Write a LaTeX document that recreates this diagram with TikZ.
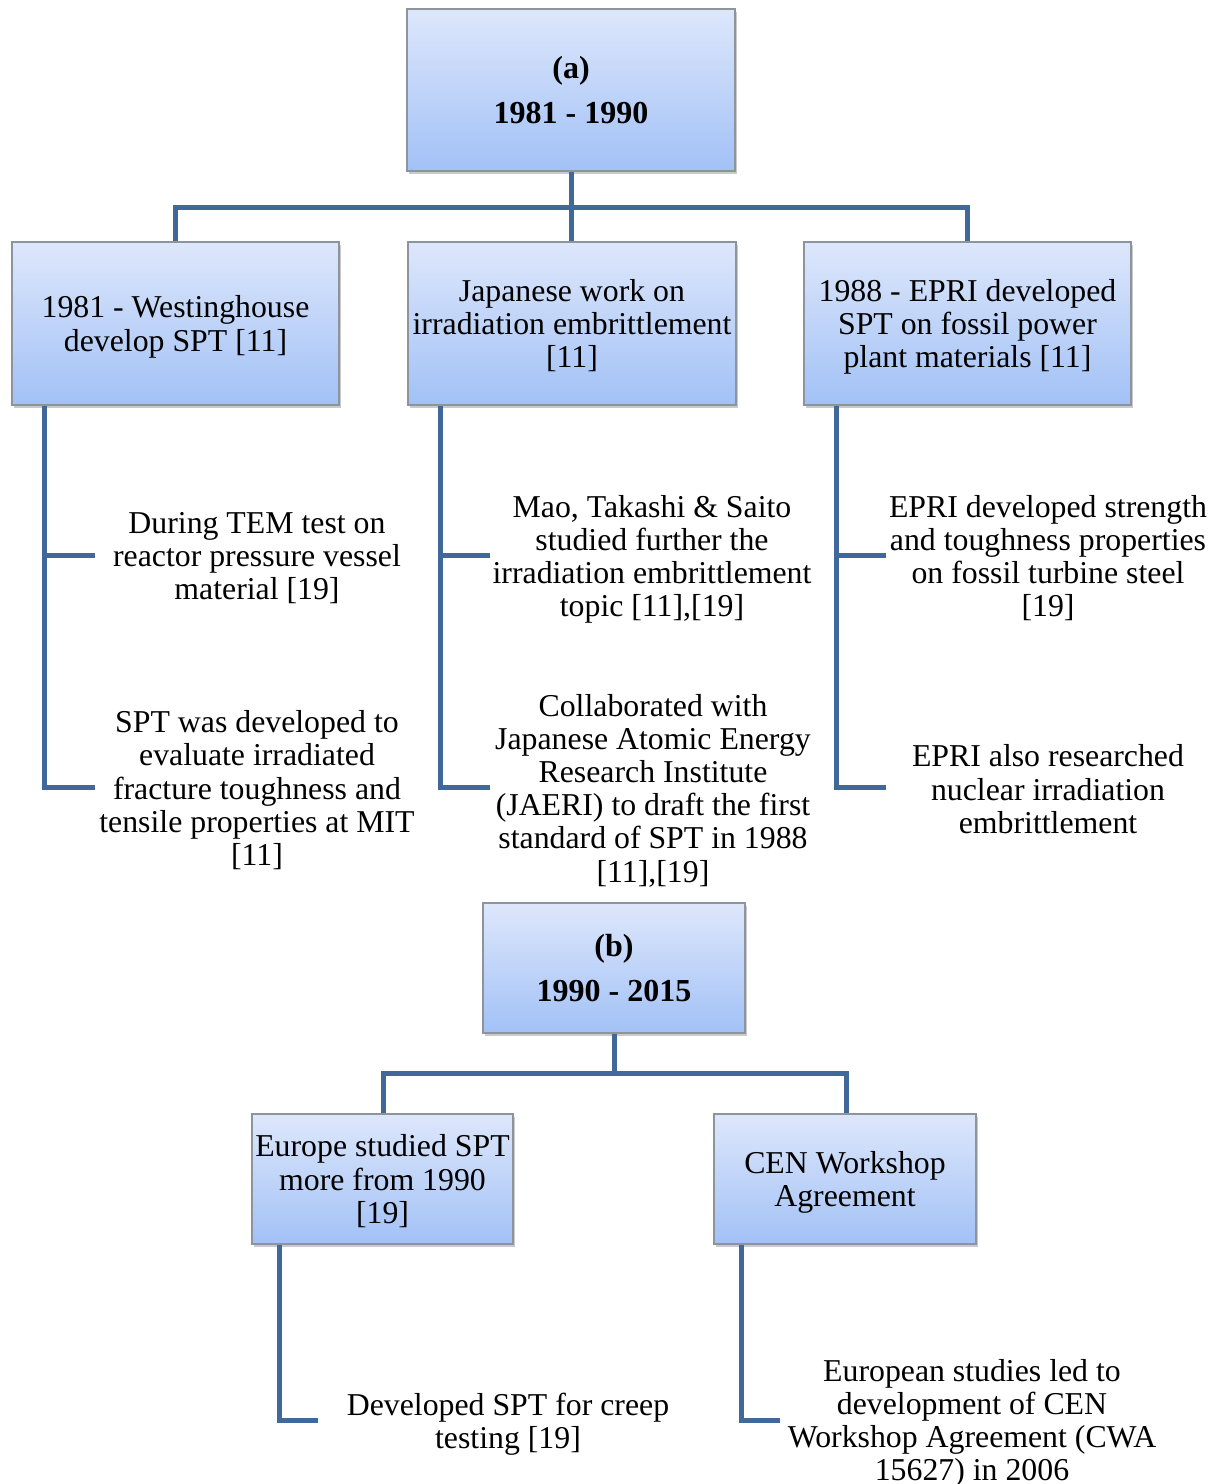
\documentclass[tikz,border=0pt]{standalone}
\usepackage{fontspec}
\setmainfont{Liberation Serif}
\usetikzlibrary{shadows}
\definecolor{linec}{HTML}{41689A}
\definecolor{topc}{HTML}{DDE7FB}
\definecolor{botc}{HTML}{A2C1F6}
\definecolor{bordc}{HTML}{8E949C}
\tikzset{
  box/.style={draw=bordc, line width=0.6pt, top color=topc, bottom color=botc,
    align=center, inner sep=1pt, text depth=0pt, font=\fontsize{15.9}{16.6}\selectfont,
    drop shadow={shadow xshift=1.2pt, shadow yshift=-1.5pt, opacity=0.35, fill=black!60}},
  headbox/.style={box, font=\fontsize{16}{22.5}\selectfont\bfseries},
  note/.style={align=center, inner sep=0pt, text depth=0pt, font=\fontsize{15.9}{16.6}\selectfont},
  conn/.style={draw=linec, line width=2.5pt},
}
\begin{document}
\begin{tikzpicture}[x=0.5pt,y=-0.5pt]
\useasboundingbox (0,0) rectangle (1218,1484);
% (a) section
\node[headbox, minimum width=164pt, minimum height=81pt] (A) at (571,90) {(a)\\1981 - 1990};
\node[box, minimum width=163.5pt, minimum height=81.5pt] (A1) at (175.5,323.5) {1981 - Westinghouse\\develop SPT [11]};
\node[box, minimum width=164pt, minimum height=81.5pt] (A2) at (572,323.5) {Japanese work on\\irradiation embrittlement\\{}[11]};
\node[box, minimum width=163.5pt, minimum height=81.5pt] (A3) at (967.5,323.5) {1988 - EPRI developed\\SPT on fossil power\\plant materials [11]};
\coordinate (Aj) at (571,207);
\draw[conn] (A.south) -- (Aj);
\draw[conn] (A1.north -| 175,0) |- (Aj) -| (A3.north -| 967,0);
\draw[conn] (Aj) -- (A2.north -| 571,0);

\node[note] (L1) at (257,556) {During TEM test on\\reactor pressure vessel\\material [19]};
\node[note] (L2) at (257,788) {SPT was developed to\\evaluate irradiated\\fracture toughness and\\tensile properties at MIT\\{}[11]};
\node[note] (M1) at (652,556) {Mao, Takashi \& Saito\\studied further the\\irradiation embrittlement\\topic [11],[19]};
\node[note] (M2) at (653,788) {Collaborated with\\Japanese Atomic Energy\\Research Institute\\(JAERI) to draft the first\\standard of SPT in 1988\\{}[11],[19]};
\node[note] (R1) at (1048,556) {EPRI developed strength\\and toughness properties\\on fossil turbine steel\\{}[19]};
\node[note] (R2) at (1048,789) {EPRI also researched\\nuclear irradiation\\embrittlement};

\coordinate (L1c) at (95,555);
\coordinate (L2c) at (95,787);
\coordinate (M1c) at (490,555);
\coordinate (M2c) at (490,787);
\coordinate (R1c) at (886,555);
\coordinate (R2c) at (886,787);
\draw[conn] (A1.south -| 44,0) |- (L2c);
\draw[conn] (44,555) -- (L1c);
\draw[conn] (A2.south -| 440,0) |- (M2c);
\draw[conn] (440,555) -- (M1c);
\draw[conn] (A3.south -| 836,0) |- (R2c);
\draw[conn] (836,555) -- (R1c);

% (b) section
\node[headbox, minimum width=131pt, minimum height=65pt] (B) at (614,968) {(b)\\1990 - 2015};
\node[box, minimum width=130.5pt, minimum height=65pt] (B1) at (382.5,1179) {Europe studied SPT\\more from 1990\\{}[19]};
\node[box, minimum width=131pt, minimum height=65pt] (B2) at (845,1179) {CEN Workshop\\Agreement};
\coordinate (Bj) at (614,1073);
\draw[conn] (B.south) -- (Bj);
\draw[conn] (B1.north -| 383,0) |- (Bj) -| (B2.north -| 846,0);

\node[note] (B1n) at (508,1421) {Developed SPT for creep\\testing [19]};
\node[note] (B2n) at (972,1420) {European studies led to\\development of CEN\\Workshop Agreement (CWA\\15627) in 2006};
\coordinate (B1c) at (318,1420);
\coordinate (B2c) at (780,1420);
\draw[conn] (B1.south -| 279,0) |- (B1c);
\draw[conn] (B2.south -| 741,0) |- (B2c);
\end{tikzpicture}
\end{document}
